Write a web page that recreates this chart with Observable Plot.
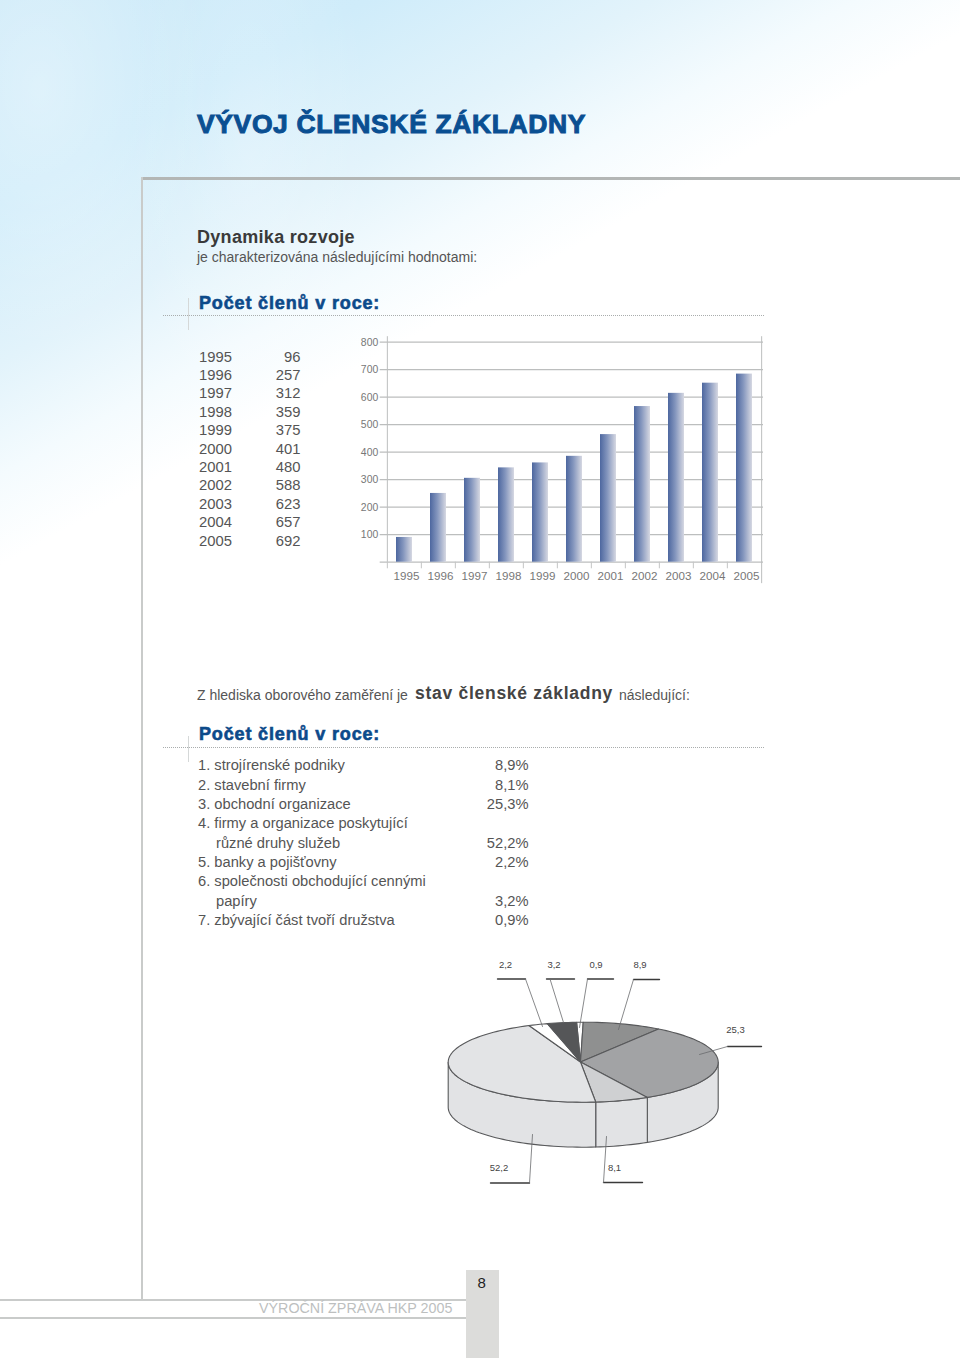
<!DOCTYPE html>
<html lang="cs">
<head>
<meta charset="utf-8">
<script src="https://cdn.jsdelivr.net/npm/d3@7"></script>
<script src="https://cdn.jsdelivr.net/npm/@observablehq/plot@0.6"></script>
<style>
html,body{margin:0;padding:0;background:#fff}
#page{position:relative;width:960px;height:1358px;overflow:hidden;font-family:"Liberation Sans",Arial,sans-serif;color:#555;
background:
 radial-gradient(ellipse 170px 260px at 40px 90px,rgba(255,255,255,.35),rgba(255,255,255,0) 100%),
 radial-gradient(ellipse 120px 320px at 250px 150px,rgba(255,255,255,.22),rgba(255,255,255,0) 100%),
 linear-gradient(151deg,#cbe9f8 0%,#cfecfa 18%,#e2f3fb 32%,#f4fbfe 42%,#fff 50%) 0 0/960px 600px no-repeat,
 #fff}
#page>*{position:absolute}
.t{white-space:nowrap;line-height:1}
.line{background:#c9cbca}
.dot{border-top:1px dotted #a9adad;height:0}
.h2{font-weight:bold;color:#0d4a8a;font-size:18px;-webkit-text-stroke:.6px #0d4a8a;left:199px;letter-spacing:.85px}
</style>
</head>
<body>
<div id="page"></div>
<script>
// Printed table of members per year
const years = [1995,1996,1997,1998,1999,2000,2001,2002,2003,2004,2005];
const members = [96,257,312,359,375,401,480,588,623,657,692];
// Bar heights as they stand in the picture, read against the y axis
const barHeights = [90,250,305,343,361,385,464,566,614,651,684];
const yTicks = [100,200,300,400,500,600,700,800];

// Sector list
const sectorRows = [
  ["1. strojírenské podniky","8,9%"],
  ["2. stavební firmy","8,1%"],
  ["3. obchodní organizace","25,3%"],
  ["4. firmy a organizace poskytující",""],
  ["   různé druhy služeb","52,2%"],
  ["5. banky a pojišťovny","2,2%"],
  ["6. společnosti obchodující cennými",""],
  ["   papíry","3,2%"],
  ["7. zbývající část tvoří družstva","0,9%"]
];

// Pie: printed labels, and the share of the circle each slice really occupies in the picture
// (the drawn slices are not proportional to the printed numbers, so both are read off it)
const pieLabels = ["0,9","8,9","25,3","8,1","52,2","2,2","3,2"];
const pieShares = [0.78,9.42,32.7,6.4,44.9,2.3,3.5];
const pieFills  = ["#ffffff","#8f9090","#a2a3a5","#cfd0d2","#e3e4e6","#ffffff","#555658"];
const pieStart = -2.8;
const pieGeom = {cx:582.7,cy:1061.7,rx:135,ry:40,depth:45,hubX:580,hubY:1061.5};

// Leader lines of the pie labels (layout only)
const leaderLabels = ["2,2","3,2","0,9","8,9","25,3","52,2","8,1"];
const leaderBar1 = [497,546,587,633,727,490,603];
const leaderBar2 = [525,574,613,659,761,529,642];
const leaderBarY = [978.5,978.5,978.5,979,1046,1182.5,1182];
const leaderElbow = [525,549.5,587,633,727,529,603];
const leaderEndX = [542,563,579,618,699,532,606];
const leaderEndY = [1026,1022,1027,1029,1054,1134,1136];
const leaderTextX = [505,553.5,595.5,639.5,735,498.5,614];
const leaderTextY = [964,964,964,964,1029.5,1167.5,1167];

const page = document.getElementById("page");
function el(cls,css,text){const d=document.createElement("div");d.className=cls;d.style.cssText=css;if(text!=null)d.textContent=text;page.appendChild(d);return d;}

// frame lines
el("line","left:141px;top:177px;width:819px;height:3px;background:#b3b6b5");
el("line","left:141px;top:177px;width:1.5px;height:1123px");
el("line","left:0;top:1299px;width:466px;height:1.5px");
el("line","left:0;top:1317px;width:466px;height:1.5px");
el("","left:466px;top:1270px;width:33px;height:88px;background:#dcdcda");
el("t","left:477.5px;top:1275px;font-size:15px;color:#222","8");
el("t","left:259px;top:1300.5px;font-size:14.3px;color:#bdbfbf","VÝROČNÍ ZPRÁVA HKP 2005");

// headings
el("t","left:197px;top:111px;font-size:26.5px;font-weight:bold;color:#0a4f92;-webkit-text-stroke:1px #0a4f92;letter-spacing:.62px","VÝVOJ ČLENSKÉ ZÁKLADNY");
el("t","left:197px;top:228px;font-size:18px;font-weight:bold;color:#3a3a3a;letter-spacing:.3px","Dynamika rozvoje");
el("t","left:197px;top:250px;font-size:14px;color:#555","je charakterizována následujícími hodnotami:");
el("t h2","top:294px","Počet členů v roce:");
el("dot","left:163px;top:315px;width:601px");
el("line","left:188px;top:298px;width:1px;height:32px;background:#d5d8d8");

// year table
years.forEach((y,i)=>{
  const top = 349.5+i*18.4;
  el("t",`left:199px;top:${top}px;font-size:14.8px`,y);
  el("t",`left:240px;width:60.5px;text-align:right;top:${top}px;font-size:14.8px`,members[i]);
});

// sector section
el("t","left:197px;top:687.5px;font-size:14px","Z hlediska oborového zaměření je");
el("t","left:415px;top:685px;font-size:17.5px;font-weight:bold;color:#444;letter-spacing:.72px","stav členské základny");
el("t","left:619px;top:687.5px;font-size:14px","následující:");
el("t h2","top:724.5px","Počet členů v roce:");
el("dot","left:163px;top:747px;width:601px");
el("line","left:188px;top:736px;width:1px;height:26px;background:#d5d8d8");
const rowTops = [758,778,797,816,836,855,874,894,913];
sectorRows.forEach((r,i)=>{
  el("t",`left:${r[0].startsWith(" ")?216:198}px;top:${rowTops[i]}px;font-size:14.7px`,r[0].trim());
  if(r[1]) el("t",`left:440px;width:88.5px;text-align:right;top:${rowTops[i]}px;font-size:14.7px`,r[1]);
});

// ---- bar chart ----
const bw=420, bh=265, bml=35.7, bmr=7;
const step=(bw-bml-bmr)/years.length;
const defs=()=>{
  const d=d3.create("svg:defs");
  const g=d.append("linearGradient").attr("id","barGrad");
  g.append("stop").attr("offset","0%").attr("stop-color","#4d679f");
  g.append("stop").attr("offset","45%").attr("stop-color","#8395bd");
  g.append("stop").attr("offset","100%").attr("stop-color","#d6d8e2");
  return d.node();
};
const barTable = years.map((y,i)=>({year:y,value:barHeights[i]}));
const bar = Plot.plot({
  width:bw,height:bh,marginLeft:bml,marginRight:bmr,marginTop:16.7,marginBottom:28.3,
  style:{background:"transparent",fontFamily:"Liberation Sans",overflow:"visible"},
  x:{type:"band",domain:years,paddingInner:.53,paddingOuter:.265,label:null},
  y:{domain:[0,800],label:null},
  marks:[
    defs,
    Plot.ruleY([0,...yTicks],{stroke:"#bcbebe",strokeWidth:1.3,insetLeft:-6,insetRight:0}),
    Plot.barY(barTable,{x:"year",y:"value",fill:"url(#barGrad)"}),
    Plot.ruleX(years,{x:d=>d,dx:-step/2,y1:-24,y2:0,stroke:"#c4c6c6"}),
    Plot.ruleX(years.slice(-1),{x:d=>d,dx:step/2,y1:-78,y2:820,stroke:"#bcbebe"}),
    Plot.ruleX(years.slice(0,1),{x:d=>d,dx:-step/2,y1:0,y2:820,stroke:"#bcbebe"}),
    Plot.axisX({tickSize:0,tickPadding:10,fontSize:11.6,fill:"#777",tickFormat:d=>String(d),label:null,dx:2}),
    Plot.axisY({ticks:yTicks,tickSize:0,tickPadding:8,fontSize:10.4,fill:"#777",label:null})
  ]
});
bar.style.left="350px";bar.style.top="325px";
page.appendChild(bar);

// ---- 3D pie ----
const {cx,cy,rx,ry,depth,hubX,hubY}=pieGeom;
const rim=(a,dz=0)=>{const r=a*Math.PI/180;return {x:cx+rx*Math.sin(r),y:cy-ry*Math.cos(r)+dz};};
const arc=(a0,a1,dz=0)=>{const n=Math.max(2,Math.ceil(Math.abs(a1-a0)/2));return d3.range(n+1).map(i=>rim(a0+(a1-a0)*i/n,dz));};
let acc=pieStart;
const totalShare=d3.sum(pieShares);
const slices=pieShares.map((s,i)=>{const a0=acc;acc+=s/totalShare*360;return {a0,a1:acc,fill:pieFills[i],label:pieLabels[i]};});
const pieStroke={stroke:"#58595b",strokeWidth:1.1,strokeLinejoin:"round"};
const wallMarks=slices.filter(s=>s.a1>90&&s.a0<270).map(s=>{
  const a0=Math.max(s.a0,90),a1=Math.min(s.a1,270);
  const pts=[...arc(a0,a1),...arc(a1,a0,depth)];pts.push(pts[0]);
  return Plot.line(pts,{x:"x",y:"y",fill:"#e2e3e5",...pieStroke});
});
const faceMarks=slices.map(s=>{
  const pts=[{x:hubX,y:hubY},...arc(s.a0,s.a1),{x:hubX,y:hubY}];
  return Plot.line(pts,{x:"x",y:"y",fill:s.fill,...pieStroke});
});
const leaderMarks=leaderLabels.flatMap((l,i)=>[
  Plot.line([{x:leaderBar1[i],y:leaderBarY[i]},{x:leaderBar2[i],y:leaderBarY[i]}],{x:"x",y:"y",stroke:"#3a3a3a",strokeWidth:1.4}),
  Plot.line([{x:leaderElbow[i],y:leaderBarY[i]},{x:leaderEndX[i],y:leaderEndY[i]}],{x:"x",y:"y",stroke:"#6a6b6d",strokeWidth:.8})
]);
const pie=Plot.plot({
  width:330,height:240,margin:0,
  style:{background:"transparent",fontFamily:"Liberation Sans"},
  x:{domain:[440,770],axis:null},
  y:{domain:[1190,950],axis:null},
  marks:[
    ...wallMarks,...faceMarks,...leaderMarks,
    Plot.text(leaderLabels,{x:(d,i)=>leaderTextX[i],y:(d,i)=>leaderTextY[i],text:d=>d,fontSize:9.5,fill:"#444"})
  ]
});
pie.style.left="440px";pie.style.top="950px";
page.appendChild(pie);
</script>
</body>
</html>
